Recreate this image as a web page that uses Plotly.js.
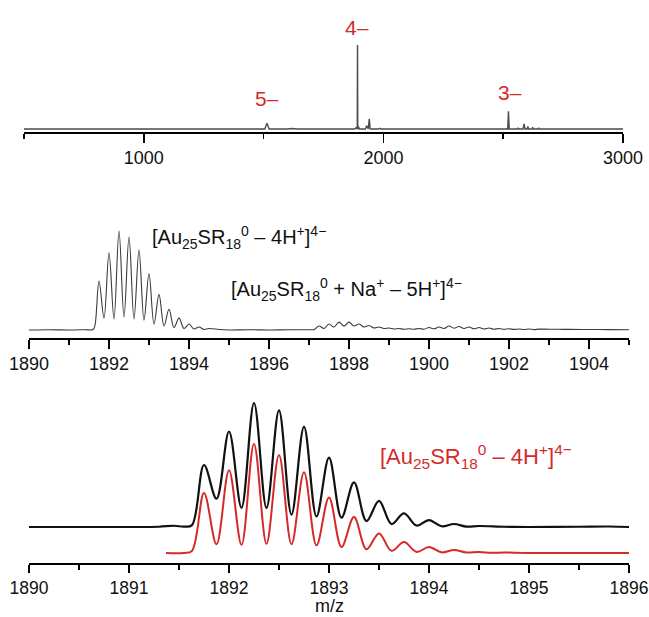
<!DOCTYPE html>
<html>
<head>
<meta charset="utf-8">
<script src="https://cdn.plot.ly/plotly-3.0.1.min.js"></script>
<style>html,body{margin:0;padding:0;background:#fff;}#chart{width:649px;height:617px;}</style>
</head>
<body>
<div id="chart"></div>
<script>
// ---------- DATA ----------
// Top panel: full spectrum, relative intensity (4- peak = 100)
const fullMz  = [500,1180,1200,1220,1380,1395,1410,1505,1514,1523,1600,1620,1640,1800,1820,1835,1880,1886,1889,1891,1892,1893,1896,1899,1925,1930,1934,1937,1941,1945,1980,1985,1990,2100,2120,2140,2300,2320,2340,2500,2515,2518,2519,2522,2525,2560,2563,2566,2583,2587,2591,2600,2603,2606,2620,2623,2626,2645,2648,2651,3000];
const fullInt = [0,0,0.6,0,0,0.8,0,0,7,0,0,0.6,0,0,0.8,0,0,1.5,0,0,100,0,3,0,0,4,0,0,12,0,0,0.8,0,0,0.6,0,0,0.6,0,0,0.8,0,0,21,0,0,1.5,0,0,6,0,0,3,0,0,2,0,0,1.5,0,0];
const chargeLabels = ["5–","4–","3–"];

// Middle panel: zoom 1890-1905, relative intensity (1892.25 = 100)
const midMz  = [1890,1890.5,1891,1891.4,1891.6,1891.65,
  1891.75,1891.875,1892,1892.125,1892.25,1892.375,1892.5,1892.625,1892.75,1892.875,1893,1893.125,1893.25,1893.375,1893.5,1893.625,1893.75,1893.875,1894,1894.125,1894.25,1894.375,1894.5,1894.75,
  1895,1895.5,1896,1896.5,1897,
  1897.125,1897.25,1897.375,1897.5,1897.625,1897.75,1897.875,1898,1898.125,1898.25,1898.375,1898.5,1898.625,1898.75,1898.875,1899,1899.125,1899.25,1899.375,1899.5,1899.625,1899.75,1899.875,
  1900,1900.125,1900.25,1900.375,1900.5,1900.625,1900.75,1900.875,1901,1901.125,1901.25,1901.375,1901.5,1901.625,1901.75,1901.875,1902,1902.125,1902.25,1902.375,1902.5,1902.625,1902.75,
  1903,1903.25,1903.5,1904,1904.5,1905];
const midInt = [0,0.3,0,0.3,0.5,5,
  49.5,12,78,11,100,13,94,11,81,10,57,6,36,4,21,2.5,12,1.5,6,1,3,0.5,1.5,0.5,
  0,0.3,0,0.3,0.3,
  0.5,4,1.5,6,3,8,4,8,4,6,3,4.5,2,3,1.5,2,1,1.5,0.8,1.2,0.8,1.5,0.8,
  2.5,1.2,3,1.5,4,1.8,3.5,1.5,3,1.2,2.5,1,2,0.8,1.5,0.7,1.2,0.6,1,0.5,1,0.4,0.9,
  0.8,0.7,0.6,0.5,0.4,0.3];
const midLabel1 = "[Au<sub>25</sub>SR<sub>18</sub><sup>0</sup> – 4H<sup>+</sup>]<sup>4−</sup>";
const midLabel2 = "[Au<sub>25</sub>SR<sub>18</sub><sup>0</sup> + Na<sup>+</sup> – 5H<sup>+</sup>]<sup>4−</sup>";

// Bottom panel: experimental (black) and simulated (red), relative intensity
const expMz  = [1890,1890.5,1891,1891.3,1891.45,1891.55,1891.63,
  1891.75,1891.875,1892,1892.125,1892.25,1892.375,1892.5,1892.625,1892.75,1892.875,1893,1893.125,1893.25,1893.375,1893.5,1893.625,1893.75,1893.875,1894,1894.125,1894.25,1894.375,1894.5,1894.75,
  1895,1895.5,1895.8,1896];
const expInt = [0,0,0,0.2,1,0.3,1.5,
  50,22.8,77,15.5,100,15.5,94,10,81,8.5,56,7.5,36,4.8,21,2.4,11,1.2,5.6,0.6,2.4,0.3,0.8,0.2,
  0,0.2,0.4,0];
const simMz  = [1891.37,1891.55,1891.63,
  1891.75,1891.875,1892,1892.125,1892.25,1892.375,1892.5,1892.625,1892.75,1892.875,1893,1893.125,1893.25,1893.375,1893.5,1893.625,1893.75,1893.875,1894,1894.125,1894.25,1894.375,1894.5,1894.625,1894.75,
  1895,1896];
const simInt = [0,0,2,
  55,8,76,7.5,100,8.5,90,8,74,7,51,5.5,33,3.5,18,2,10,1,5.5,0.6,2.8,0.4,0.9,0.2,0.4,
  0.1,0];
const simLabel = "[Au<sub>25</sub>SR<sub>18</sub><sup>0</sup> – 4H<sup>+</sup>]<sup>4−</sup>";

// ---------- LAYOUT HELPERS ----------
const W = 649, H = 617;
const px = v => v / W;
const py = v => 1 - v / H;
const RED = '#d42a2a';
const FONT = 'Arial, "Liberation Sans", sans-serif';

function xax(range, dtick, minor, domL, domR, anchor, fs, tl) {
  return {
    domain: [px(domL), px(domR)], range: range, anchor: anchor,
    showline: true, linecolor: '#000', linewidth: 1.5,
    ticks: 'outside', ticklen: tl || 9, tickwidth: 1.5, tickcolor: '#000',
    tick0: range[0] % dtick === 0 ? range[0] : Math.ceil(range[0]/dtick)*dtick, dtick: dtick,
    minor: {dtick: minor, ticks: 'outside', ticklen: 5, tickwidth: 1.5, tickcolor: '#000', showgrid: false},
    showgrid: false, zeroline: false, ticklabeloverflow: 'allow',
    tickfont: {family: FONT, size: fs || 18, color: '#111'}, fixedrange: true
  };
}
function yax(botPx, topPx, basePx, pxPerUnit, extra) {
  return Object.assign({
    domain: [py(botPx), py(topPx)],
    range: [-(botPx - basePx) / pxPerUnit, (basePx - topPx) / pxPerUnit],
    visible: false, fixedrange: true
  }, extra || {});
}

const traces = [
  {x: fullMz, y: fullInt, xaxis: 'x', yaxis: 'y', mode: 'lines', line: {color: '#4a4a4a', width: 1.4}, hoverinfo: 'skip'},
  {x: midMz, y: midInt, xaxis: 'x2', yaxis: 'y2', mode: 'lines', line: {color: '#3a3a3a', width: 1.1, shape: 'spline', smoothing: 1}, hoverinfo: 'skip'},
  {x: expMz, y: expInt, xaxis: 'x3', yaxis: 'y3', mode: 'lines', line: {color: '#111', width: 2.2, shape: 'spline', smoothing: 1}, hoverinfo: 'skip'},
  {x: simMz, y: simInt, xaxis: 'x3', yaxis: 'y4', mode: 'lines', line: {color: RED, width: 2, shape: 'spline', smoothing: 1}, hoverinfo: 'skip'}
];

const ann = (text, x, y, size, color, xanchor, yanchor) => ({
  text: text, xref: 'paper', yref: 'paper', x: px(x), y: py(y),
  xanchor: xanchor || 'center', yanchor: yanchor || 'middle', showarrow: false, borderpad: 0,
  font: {family: FONT, size: size, color: color}
});

const layout = {
  width: W, height: H, margin: {l: 0, r: 0, t: 0, b: 0},
  paper_bgcolor: '#fff', plot_bgcolor: 'rgba(0,0,0,0)', showlegend: false,
  xaxis:  xax([500, 3000], 1000, 500, 24, 623, 'y'),
  yaxis:  yax(132, 15, 129, 0.84),
  xaxis2: xax([1890, 1905], 2, 1, 29, 629, 'y2'),
  yaxis2: yax(338, 215, 330, 0.99),
  xaxis3: xax([1890, 1896], 1, 0.5, 29, 629, 'y3', 17.5, 8),
  yaxis3: yax(563, 395, 527, 1.24),
  yaxis4: yax(563, 395, 553, 1.09, {overlaying: 'y3'}),
  annotations: [
    ann(chargeLabels[0], 267, 98, 21, RED),
    ann(chargeLabels[1], 357, 27, 21, RED),
    ann(chargeLabels[2], 510, 92, 21, RED),
    ann(midLabel1, 151, 238, 20, '#111', 'left'),
    ann(midLabel2, 230, 289, 20, '#111', 'left'),
    ann(simLabel, 379, 457, 22, RED, 'left'),
    ann('m/z', 329, 617, 18, '#111', 'center', 'bottom')
  ]
};

Plotly.newPlot('chart', traces, layout, {staticPlot: true, displayModeBar: false});
</script>
</body>
</html>
